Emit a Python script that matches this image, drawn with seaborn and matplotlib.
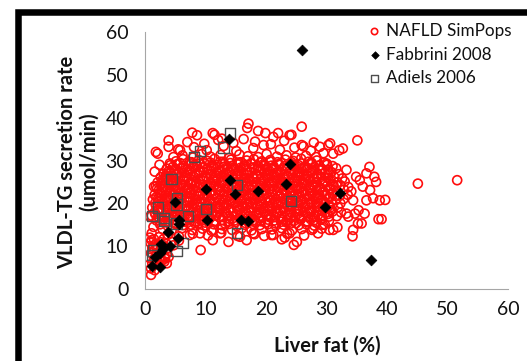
import matplotlib
matplotlib.use("Agg")
import matplotlib.pyplot as plt
from matplotlib.patches import Rectangle
import seaborn as sns

# Simulated NAFLD population: liver fat (%) and VLDL-TG secretion (umol/min)
sim_fat = [
    # upper scatter
    7.0, 9.8, 12.1, 14.6, 16.3, 18.2, 20.8, 23.0, 27.9,
    5.5, 8.1, 10.2, 13.0, 15.1, 17.9, 19.6, 22.3, 24.7, 27.4,
    6.2, 7.9, 9.4, 10.8, 12.5, 13.9, 15.6, 17.0, 18.7, 20.1, 21.8, 23.4, 24.9, 26.6, 28.3,
    5.1, 6.3, 7.7, 8.9, 10.3, 11.5, 12.9, 14.2, 15.4, 16.8, 18.0, 19.3, 20.7, 21.9, 23.2, 24.5, 25.8, 27.0, 28.4, 29.6,
    # main body
    4.2, 5.4, 6.4, 7.6, 8.6, 9.8, 10.9, 12.0, 13.1, 14.3, 15.3, 16.5, 17.6, 18.7, 19.8, 20.9, 22.1, 23.1, 24.3, 25.4, 26.5, 27.6, 28.8, 30.1, 31.0,
    3.6, 4.8, 5.9, 7.0, 8.1, 9.1, 10.3, 11.4, 12.4, 13.6, 14.7, 15.8, 16.9, 18.0, 19.1, 20.2, 21.3, 22.5, 23.6, 24.7, 25.8, 26.9, 28.0, 29.2, 30.3, 31.6,
    3.1, 4.2, 5.3, 6.5, 7.5, 8.6, 9.7, 10.8, 11.9, 13.0, 14.1, 15.2, 16.3, 17.4, 18.5, 19.7, 20.8, 21.9, 23.0, 24.1, 25.2, 26.3, 27.4, 28.5, 29.7, 30.8, 32.0,
    2.6, 3.7, 4.7, 5.8, 6.9, 8.0, 9.1, 10.2, 11.3, 12.5, 13.5, 14.6, 15.8, 16.8, 17.9, 19.1, 20.2, 21.3, 22.4, 23.5, 24.6, 25.7, 26.9, 27.9, 29.1, 30.2, 31.3, 32.6,
    2.1, 3.2, 4.3, 5.3, 6.4, 7.5, 8.5, 9.6, 10.7, 11.8, 12.9, 14.0, 15.1, 16.2, 17.3, 18.4, 19.5, 20.6, 21.8, 22.9, 24.0, 25.1, 26.2, 27.3, 28.4, 29.6, 30.7, 31.8, 33.0,
    1.8, 2.8, 3.9, 4.9, 6.0, 7.1, 8.2, 9.2, 10.3, 11.4, 12.4, 13.6, 14.6, 15.7, 16.8, 17.9, 19.0, 20.1, 21.2, 22.3, 23.4, 24.5, 25.7, 26.7, 27.8, 28.9, 30.1, 31.2, 32.3, 33.6,
    2.3, 3.4, 4.4, 5.5, 6.6, 7.7, 8.7, 9.8, 10.9, 12.0, 13.1, 14.1, 15.3, 16.3, 17.4, 18.5, 19.6, 20.7, 21.8, 22.9, 24.0, 25.1, 26.2, 27.3, 28.4, 29.5, 30.6, 31.7, 32.9, 34.1,
    1.6, 2.7, 3.8, 4.8, 5.9, 7.0, 8.1, 9.1, 10.2, 11.3, 12.4, 13.5, 14.5, 15.6, 16.7, 17.8, 18.9, 20.0, 21.1, 22.2, 23.3, 24.4, 25.5, 26.6, 27.7, 28.8, 29.9, 31.0, 32.2, 33.5,
    1.3, 2.2, 3.3, 4.3, 5.4, 6.5, 7.5, 8.6, 9.7, 10.8, 11.8, 12.9, 14.0, 15.0, 16.1, 17.2, 18.3, 19.4, 20.5, 21.6, 22.7, 23.8, 24.9, 26.0, 27.1, 28.2, 29.3, 30.4, 31.6, 32.8,
    1.7, 2.8, 3.8, 4.9, 6.0, 7.0, 8.1, 9.2, 10.3, 11.3, 12.4, 13.5, 14.6, 15.6, 16.7, 17.8, 18.9, 20.0, 21.1, 22.1, 23.2, 24.3, 25.4, 26.5, 27.6, 28.7, 29.8, 31.0, 32.3,
    1.2, 2.3, 3.3, 4.4, 5.5, 6.5, 7.6, 8.7, 9.8, 10.8, 11.9, 13.0, 14.1, 15.2, 16.2, 17.3, 18.4, 19.5, 20.6, 21.7, 22.8, 23.9, 25.0, 26.1, 27.2, 28.3, 29.4, 30.6, 31.9,
    1.6, 2.7, 3.7, 4.8, 5.9, 6.9, 8.0, 9.1, 10.2, 11.2, 12.3, 13.4, 14.5, 15.5, 16.6, 17.7, 18.8, 19.9, 21.0, 22.0, 23.1, 24.2, 25.3, 26.4, 27.5, 28.6, 29.8, 31.0, 32.4,
    1.1, 2.2, 3.2, 4.3, 5.3, 6.4, 7.5, 8.5, 9.6, 10.7, 11.8, 12.9, 13.9, 15.0, 16.1, 17.2, 18.3, 19.4, 20.5, 21.5, 22.6, 23.7, 24.8, 25.9, 27.0, 28.1, 29.2, 30.4, 31.7,
    1.9, 3.0, 4.0, 5.1, 6.2, 7.3, 8.3, 9.4, 10.5, 11.6, 12.7, 13.8, 14.8, 15.9, 17.0, 18.1, 19.2, 20.3, 21.4, 22.5, 23.5, 24.6, 25.7, 26.8, 27.9, 29.1, 30.4,
    2.5, 3.7, 5.0, 6.3, 7.6, 8.8, 10.1, 11.4, 12.7, 13.9, 15.2, 16.5, 17.8, 19.0, 20.3, 21.6, 22.9, 24.1, 25.4, 26.7, 28.0, 29.4,
    2.9, 4.4, 6.1, 7.8, 9.5, 11.0, 12.7, 14.4, 16.0, 17.6, 19.3, 21.0, 22.6, 24.3, 25.9, 27.6, 29.2,
    3.8, 5.6, 7.9, 10.4, 12.6, 15.3, 18.1, 20.9, 23.5, 26.3,
    # densest part of the body
    3.3, 4.9, 6.6, 8.2, 9.9, 11.6, 13.2, 14.9, 16.6, 18.3, 19.9, 21.6, 23.3, 25.0, 26.6, 28.3,
    2.4, 4.0, 5.7, 7.3, 9.0, 10.7, 12.3, 14.0, 15.7, 17.4, 19.0, 20.7, 22.4, 24.1, 25.8, 27.4, 29.3,
    1.7, 3.5, 5.1, 6.8, 8.4, 10.1, 11.8, 13.4, 15.1, 16.8, 18.5, 20.1, 21.8, 23.5, 25.2, 26.9, 28.6, 30.2,
    2.1, 3.9, 5.5, 7.2, 8.9, 10.5, 12.2, 13.9, 15.6, 17.2, 18.9, 20.6, 22.3, 23.9, 25.6, 27.3, 29.0, 30.7,
    1.8, 3.6, 5.2, 6.9, 8.6, 10.2, 11.9, 13.6, 15.3, 16.9, 18.6, 20.3, 22.0, 23.6, 25.3, 27.0, 28.7, 30.4,
    2.2, 4.0, 5.6, 7.3, 9.0, 10.6, 12.3, 14.0, 15.7, 17.3, 19.0, 20.7, 22.4, 24.0, 25.7, 27.4, 29.1, 30.8,
    1.9, 3.7, 5.3, 7.0, 8.7, 10.3, 12.0, 13.7, 15.4, 17.0, 18.7, 20.4, 22.1, 23.7, 25.4, 27.1, 28.8, 30.5,
    2.4, 4.2, 5.8, 7.5, 9.2, 10.8, 12.5, 14.2, 15.9, 17.5, 19.2, 20.9, 22.6, 24.2, 25.9, 27.6, 29.3, 31.0,
    2.0, 3.8, 5.4, 7.1, 8.8, 10.4, 12.1, 13.8, 15.5, 17.1, 18.8, 20.5, 22.2, 23.8, 25.5, 27.2, 28.9, 30.6,
    2.6, 4.3, 6.0, 7.6, 9.3, 11.0, 12.6, 14.3, 16.0, 17.7, 19.3, 21.0, 22.7, 24.4, 26.0, 27.7, 29.4, 31.1,
    2.9, 4.6, 6.3, 7.9, 9.6, 11.3, 12.9, 14.6, 16.3, 18.0, 19.6, 21.3, 23.0, 24.7, 26.3, 28.0, 29.7,
    3.4, 5.1, 6.8, 8.4, 10.1, 11.8, 13.4, 15.1, 16.8, 18.5, 20.1, 21.8, 23.5, 25.2, 26.8, 28.5, 30.2,
    3.9, 5.6, 7.3, 8.9, 10.6, 12.3, 13.9, 15.6, 17.3, 19.0, 20.6, 22.3, 24.0, 25.7, 27.3, 29.0,
    4.6, 6.3, 8.0, 9.6, 11.3, 13.0, 14.6, 16.3, 18.0, 19.7, 21.3, 23.0, 24.7, 26.4, 28.0,
    5.8, 7.4, 9.1, 10.8, 12.4, 14.1, 15.8, 17.5, 19.1, 20.8, 22.5, 24.2, 25.8, 27.5,
    # low liver fat cluster
    0.8, 1.5, 2.3, 3.1, 0.9, 1.8, 2.6, 3.5, 4.4, 1.2, 2.0, 2.9, 3.8, 4.7, 5.6,
    1.0, 1.9, 2.7, 3.6, 0.7, 1.5, 2.4, 3.3, 1.2, 2.0, 1.0, 1.6, 2.8,
    # outer individuals
    35.1, 25.9, 25.9, 26.2, 17.1, 16.9, 18.7, 19.9, 7.8, 8.6, 11.2, 11.5, 3.9, 3.9, 1.8, 2.1,
    21.2, 23.9, 12.7, 45.1, 51.6, 38.8, 38.6, 38.2, 37.9, 36.6, 36.3, 34.3, 35.2, 31.8, 30.5, 29.7,
    24.6, 25.1, 22.6, 23.1, 19.7, 16.8, 13.8, 11.2, 9.2, 1.0, 3.2, 3.3, 1.9, 1.1, 1.4, 1.5,
    32.7, 30.3, 31.1, 32.1, 28.9, 37.1, 35.5, 34.7, 33.3, 39.7, 39.1, 37.2, 37.7, 35.3, 35.8, 33.6,
    33.3, 30.0, 29.5, 22.0, 24.2, 30.6, 34.9, 36.0, 36.6, 34.4, 31.1, 34.4,
    0.8, 1.1, 1.4, 3.6, 3.9, 2.5, 3.6, 4.1, 4.7, 5.8, 1.6, 2.4,
    7.4, 9.1, 11.3, 12.4, 15.7, 17.9, 21.2, 23.9, 27.8, 28.6,
]
sim_rate = [
    34.3, 33.9, 34.8, 34.1, 35.0, 34.4, 33.8, 34.6, 34.2,
    32.6, 33.1, 32.4, 33.4, 32.2, 32.9, 33.6, 32.5, 33.0, 32.3,
    31.2, 30.7, 31.5, 30.9, 31.3, 30.6, 31.4, 31.0, 30.8, 31.5, 30.9, 31.2, 30.7, 31.1, 30.8,
    29.8, 30.3, 29.6, 30.1, 29.9, 30.4, 29.7, 30.2, 29.5, 30.0, 30.3, 29.8, 30.1, 29.6, 30.2, 29.9, 30.4, 29.7, 30.0, 29.5,
    28.9, 29.2, 28.7, 29.1, 28.8, 29.3, 28.6, 29.0, 29.2, 28.7, 29.1, 28.9, 29.3, 28.6, 29.0, 28.8, 29.2, 28.7, 29.1, 28.9, 28.6, 29.2, 28.8, 29.0, 28.7,
    28.1, 27.8, 28.2, 27.9, 28.3, 27.7, 28.0, 28.2, 27.8, 28.1, 27.9, 28.3, 27.7, 28.0, 28.2, 27.8, 28.1, 27.9, 28.3, 27.7, 28.0, 28.2, 27.8, 28.1, 27.9, 28.2,
    26.9, 27.2, 26.8, 27.1, 26.7, 27.0, 27.3, 26.9, 27.1, 26.8, 27.2, 26.9, 27.0, 27.3, 26.8, 27.1, 26.9, 27.2, 26.7, 27.0, 27.1, 26.8, 27.2, 26.9, 27.0, 27.3, 26.8,
    26.1, 25.8, 26.2, 25.9, 26.0, 26.3, 25.7, 26.1, 25.9, 26.2, 25.8, 26.0, 26.3, 25.9, 26.1, 25.7, 26.0, 26.2, 25.8, 26.1, 25.9, 26.3, 25.8, 26.0, 26.2, 25.9, 26.1, 25.8,
    24.9, 25.2, 24.8, 25.1, 25.3, 24.9, 25.0, 25.2, 24.7, 25.1, 24.9, 25.3, 24.8, 25.0, 25.2, 24.9, 25.1, 24.8, 25.2, 25.0, 24.7, 25.1, 24.9, 25.3, 24.8, 25.0, 25.2, 24.9, 25.1,
    24.0, 23.8, 24.2, 23.9, 24.1, 23.7, 24.0, 24.3, 23.9, 24.1, 23.8, 24.0, 24.2, 23.9, 24.1, 23.8, 24.2, 23.9, 24.0, 24.3, 23.8, 24.1, 23.9, 24.2, 24.0, 23.7, 24.1, 23.9, 24.2, 23.8,
    23.1, 22.8, 23.2, 22.9, 23.0, 23.3, 22.8, 23.1, 22.9, 23.2, 22.7, 23.0, 23.2, 22.9, 23.1, 22.8, 23.0, 23.3, 22.9, 23.1, 22.8, 23.2, 22.9, 23.0, 23.2, 22.8, 23.1, 22.9, 23.2, 22.8,
    22.0, 22.2, 21.8, 22.1, 21.9, 22.3, 22.0, 21.8, 22.2, 21.9, 22.1, 21.8, 22.0, 22.3, 21.9, 22.1, 21.8, 22.2, 22.0, 21.9, 22.1, 21.8, 22.2, 22.0, 21.7, 22.1, 21.9, 22.2, 21.8, 22.0,
    20.9, 21.2, 20.8, 21.1, 21.0, 20.7, 21.2, 20.9, 21.1, 20.8, 21.3, 20.9, 21.0, 21.2, 20.8, 21.1, 20.9, 21.2, 20.7, 21.0, 21.2, 20.9, 21.1, 20.8, 21.0, 21.3, 20.9, 21.1, 20.8, 21.0,
    20.1, 19.8, 20.2, 19.9, 20.0, 20.3, 19.8, 20.1, 19.9, 20.2, 19.7, 20.0, 20.2, 19.9, 20.1, 19.8, 20.0, 20.3, 19.9, 20.1, 19.8, 20.2, 20.0, 19.7, 20.1, 19.9, 20.2, 19.8, 20.0,
    19.0, 18.8, 19.2, 18.9, 19.1, 18.7, 19.0, 19.2, 18.8, 19.1, 18.9, 19.3, 18.8, 19.0, 19.2, 18.9, 19.1, 18.8, 19.2, 18.9, 19.0, 19.3, 18.8, 19.1, 18.9, 19.2, 18.8, 19.0, 19.1,
    17.9, 18.2, 17.8, 18.1, 17.9, 18.2, 18.0, 17.7, 18.1, 17.9, 18.2, 17.8, 18.0, 18.3, 17.9, 18.1, 17.8, 18.0, 18.2, 17.9, 18.1, 17.8, 18.2, 17.9, 18.0, 18.2, 17.8, 18.1, 17.9,
    17.1, 16.8, 17.0, 17.2, 16.9, 17.1, 16.7, 17.0, 17.2, 16.9, 17.1, 16.8, 17.0, 17.3, 16.8, 17.0, 17.2, 16.9, 17.1, 16.8, 17.0, 17.2, 16.9, 17.1, 16.8, 17.0, 17.2, 16.9, 17.0,
    16.0, 16.2, 15.8, 16.1, 15.9, 16.2, 15.8, 16.0, 16.3, 15.9, 16.1, 15.8, 16.0, 16.2, 15.9, 16.1, 15.8, 16.2, 16.0, 15.7, 16.1, 15.9, 16.2, 15.8, 16.0, 16.2, 15.9,
    15.1, 14.8, 15.2, 14.9, 15.0, 15.3, 14.8, 15.1, 14.9, 15.2, 14.7, 15.0, 15.2, 14.9, 15.1, 14.8, 15.0, 15.3, 14.9, 15.1, 14.8, 15.0,
    14.0, 13.7, 14.2, 13.8, 14.1, 13.6, 14.0, 13.8, 14.2, 13.7, 14.0, 13.9, 14.2, 13.7, 14.0, 13.8, 14.1,
    12.7, 12.3, 12.9, 12.5, 13.1, 12.4, 12.8, 12.6, 12.9, 12.5,
    15.6, 15.3, 15.7, 15.4, 15.5, 15.8, 15.3, 15.6, 15.4, 15.7, 15.5, 15.3, 15.6, 15.4, 15.7, 15.5,
    16.5, 16.7, 16.4, 16.6, 16.3, 16.5, 16.8, 16.4, 16.6, 16.3, 16.5, 16.7, 16.4, 16.6, 16.5, 16.3, 16.6,
    17.5, 17.3, 17.6, 17.4, 17.7, 17.5, 17.3, 17.6, 17.4, 17.7, 17.5, 17.3, 17.6, 17.4, 17.5, 17.7, 17.3, 17.5,
    18.5, 18.7, 18.4, 18.6, 18.3, 18.5, 18.7, 18.4, 18.6, 18.3, 18.5, 18.7, 18.4, 18.6, 18.5, 18.3, 18.6, 18.4,
    19.5, 19.3, 19.6, 19.4, 19.7, 19.5, 19.3, 19.6, 19.4, 19.7, 19.5, 19.3, 19.6, 19.4, 19.5, 19.7, 19.3, 19.5,
    20.5, 20.7, 20.4, 20.6, 20.3, 20.5, 20.7, 20.4, 20.6, 20.3, 20.5, 20.7, 20.4, 20.6, 20.5, 20.3, 20.6, 20.4,
    21.5, 21.3, 21.6, 21.4, 21.7, 21.5, 21.3, 21.6, 21.4, 21.7, 21.5, 21.3, 21.6, 21.4, 21.5, 21.7, 21.3, 21.5,
    22.5, 22.7, 22.4, 22.6, 22.3, 22.5, 22.7, 22.4, 22.6, 22.3, 22.5, 22.7, 22.4, 22.6, 22.5, 22.3, 22.6, 22.4,
    23.5, 23.3, 23.6, 23.4, 23.7, 23.5, 23.3, 23.6, 23.4, 23.7, 23.5, 23.3, 23.6, 23.4, 23.5, 23.7, 23.3, 23.5,
    24.5, 24.7, 24.4, 24.6, 24.3, 24.5, 24.7, 24.4, 24.6, 24.3, 24.5, 24.7, 24.4, 24.6, 24.5, 24.3, 24.6, 24.4,
    25.5, 25.3, 25.6, 25.4, 25.7, 25.5, 25.3, 25.6, 25.4, 25.7, 25.5, 25.3, 25.6, 25.4, 25.5, 25.7, 25.3,
    26.5, 26.7, 26.4, 26.6, 26.3, 26.5, 26.7, 26.4, 26.6, 26.3, 26.5, 26.7, 26.4, 26.6, 26.5, 26.3, 26.6,
    27.5, 27.3, 27.6, 27.4, 27.7, 27.5, 27.3, 27.6, 27.4, 27.7, 27.5, 27.3, 27.6, 27.4, 27.5, 27.7,
    28.5, 28.3, 28.6, 28.4, 28.7, 28.5, 28.3, 28.6, 28.4, 28.7, 28.5, 28.3, 28.6, 28.4, 28.5,
    29.4, 29.6, 29.3, 29.5, 29.7, 29.4, 29.6, 29.3, 29.5, 29.7, 29.4, 29.6, 29.3, 29.5,
    12.0, 11.6, 12.1, 11.7, 10.8, 10.5, 10.9, 10.6, 11.0, 9.6, 9.3, 9.8, 9.5, 10.2, 11.3,
    8.4, 8.1, 8.6, 8.3, 7.3, 7.0, 7.4, 7.1, 6.0, 5.8, 4.8, 4.4, 6.6,
    34.7, 37.9, 33.6, 33.3, 38.6, 37.6, 36.9, 36.4, 36.5, 35.9, 36.4, 36.0, 34.7, 33.2, 32.0, 31.6,
    35.5, 35.9, 35.1, 24.6, 25.4, 20.7, 16.3, 25.0, 26.2, 20.7, 17.6, 12.3, 15.3, 14.4, 13.8, 15.1,
    10.3, 11.0, 11.6, 12.0, 12.4, 11.4, 11.0, 11.4, 9.1, 3.3, 6.4, 7.5, 6.0, 11.4, 14.5, 23.9,
    32.8, 33.6, 31.6, 32.4, 33.2, 28.5, 25.4, 17.6, 17.6, 20.8, 16.3, 23.1, 21.2, 18.4, 15.3, 16.9,
    27.8, 29.3, 31.7, 36.4, 36.0, 34.0, 26.2, 23.9, 27.0, 20.7, 13.8, 13.8,
    16.9, 13.0, 9.9, 6.0, 7.5, 6.8, 26.2, 29.3, 30.8, 32.4, 27.4, 29.0,
    12.6, 13.0, 13.8, 13.0, 12.2, 13.0, 12.6, 13.0, 14.1, 13.0,
]

# Fabbrini 2008 subjects
fabbrini_fat = [25.9, 13.9, 23.9, 14.1, 10.0, 14.8, 18.7, 23.3, 32.3, 29.8, 5.0, 10.2,
                15.8, 17.1, 5.6, 5.6, 3.8, 5.5, 2.7, 4.2, 2.9, 2.4, 1.6, 1.1, 2.5, 37.4]
fabbrini_rate = [55.9, 35.1, 29.1, 25.4, 23.4, 22.1, 22.8, 24.5, 22.5, 19.2, 20.2, 16.0,
                 16.2, 15.9, 16.0, 15.2, 13.2, 12.0, 10.6, 10.0, 9.4, 8.5, 7.5, 5.4, 5.1, 6.8]

# Adiels 2006 subjects
adiels_fat = [14.0, 13.0, 9.1, 8.1, 4.4, 5.3, 5.2, 2.1, 1.2, 3.1, 3.1, 5.2, 7.1, 10.1,
              15.2, 24.1, 15.2, 6.2, 5.2, 1.3, 1.1]
adiels_rate = [36.3, 33.0, 32.2, 30.8, 25.6, 21.3, 19.7, 19.0, 17.0, 16.6, 15.8, 15.3,
               17.0, 18.7, 24.3, 20.6, 13.1, 10.7, 8.8, 9.0, 8.0]

x_ticks = [0, 10, 20, 30, 40, 50, 60]
y_ticks = [0, 10, 20, 30, 40, 50, 60]

sns.set_style("white")
plt.rcParams["font.family"] = ["Lato", "DejaVu Sans"]

W, H = 527, 361
fig = plt.figure(figsize=(W / 100, H / 100), dpi=100)
ax = fig.add_axes([145 / W, 1 - 289 / H, (508 - 145) / W, (289 - 32) / H])

sns.scatterplot(x=sim_fat, y=sim_rate, ax=ax, marker="o", s=42,
                facecolor="none", edgecolor="#ff0d0d", linewidth=1.2,
                label="NAFLD SimPops", legend=False, zorder=2)
sns.scatterplot(x=fabbrini_fat, y=fabbrini_rate, ax=ax, marker="D", s=30,
                color="black", edgecolor="black", linewidth=0.5,
                label="Fabbrini 2008", legend=False, zorder=4)
sns.scatterplot(x=adiels_fat, y=adiels_rate, ax=ax, marker="s", s=55,
                facecolor="none", edgecolor="#4d4d4d", linewidth=1.0,
                label="Adiels 2006", legend=False, zorder=3)

ax.set_xlim(0, 60)
ax.set_ylim(0, 60)
ax.set_xticks(x_ticks)
ax.set_yticks(y_ticks)
ax.set_xticklabels([str(t) for t in x_ticks])
ax.set_yticklabels([str(t) for t in y_ticks])

axis_grey = "#a6a6a6"
text_col = "#111111"
for side in ("top", "right"):
    ax.spines[side].set_visible(False)
for side in ("left", "bottom"):
    ax.spines[side].set_color(axis_grey)
    ax.spines[side].set_linewidth(0.8)
ax.tick_params(axis="x", direction="out", length=3.5, width=0.8, color=axis_grey,
               pad=5, labelsize=14, labelcolor=text_col)
ax.tick_params(axis="y", direction="out", length=4.0, width=0.8, color=axis_grey,
               pad=8, labelsize=14, labelcolor=text_col)
ax.grid(False)
ax.set_xlabel("")
ax.set_ylabel("")

fig.text(327 / W, 1 - 346 / H, "Liver fat (%)", ha="center", va="center",
         fontsize=14.5, fontweight="bold", color=text_col)
fig.text(78 / W, 1 - 162 / H, "VLDL-TG secretion rate\n(umol/min)", ha="center",
         va="center", rotation=90, fontsize=14.5, fontweight="bold",
         color=text_col, linespacing=1.15)

leg = ax.legend(loc="upper left", bbox_to_anchor=(366 / W, 1 - 23 / H),
                bbox_transform=fig.transFigure, frameon=False, fontsize=12.3,
                handletextpad=0.2, handlelength=1.0, labelspacing=0.45,
                borderpad=0, borderaxespad=0, markerscale=0.7)
for txt in leg.get_texts():
    txt.set_color(text_col)

# Heavy black frame along the top and left edges
fig.add_artist(Rectangle((18.3 / W, -0.2), 2.0, (1 - 11.7 / H) + 0.2,
                         transform=fig.transFigure, fill=False, edgecolor="black",
                         linewidth=4.7, joinstyle="miter", clip_on=False))

fig.savefig("out.png", dpi=100)
